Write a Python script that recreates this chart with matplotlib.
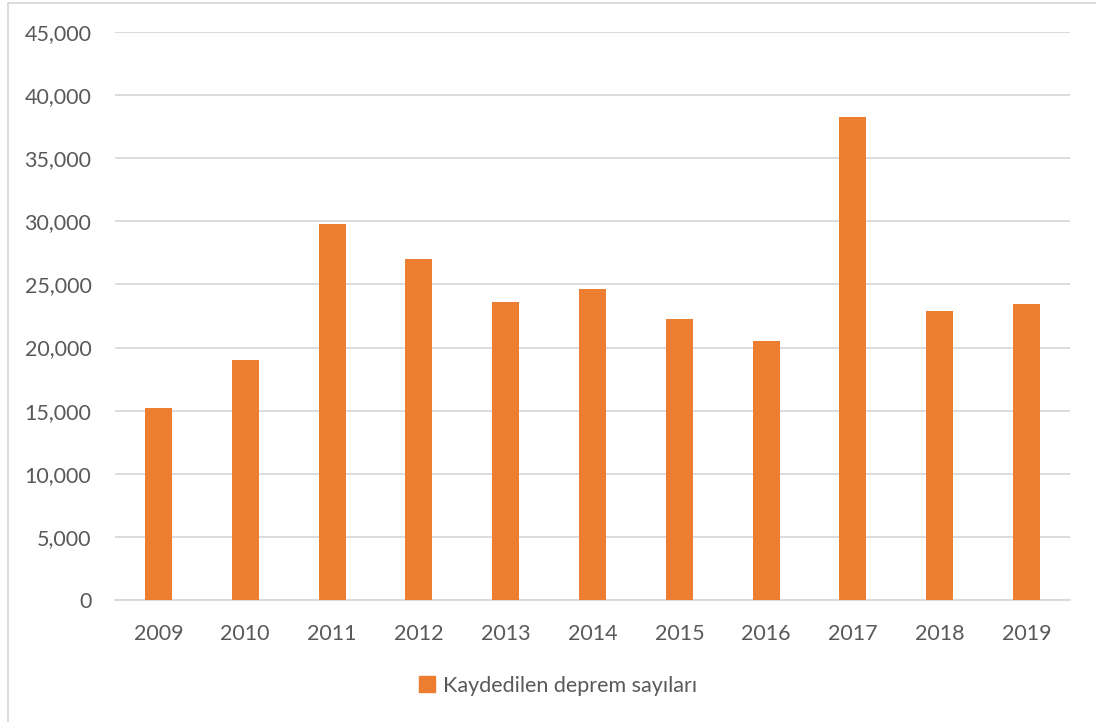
import numpy as np
import matplotlib.pyplot as plt
from matplotlib.lines import Line2D
from matplotlib.ticker import FuncFormatter

plt.rcParams['font.family'] = ['Lato', 'DejaVu Sans']

years = ['2009', '2010', '2011', '2012', '2013', '2014',
         '2015', '2016', '2017', '2018', '2019']
counts = [15200, 19000, 29800, 27000, 23600, 24600,
          22300, 20550, 38300, 22900, 23450]
series_name = 'Kaydedilen deprem sayıları'

bar_color = '#ED7D31'
text_color = '#595959'
grid_color = '#D9D9D9'

W, H = 1096, 722
fig = plt.figure(figsize=(W / 100, H / 100), dpi=100)
fig.patch.set_facecolor('white')

# axes box in pixel coords: x 115..1070, y 32..600
ax = fig.add_axes([115 / W, 1 - 600 / H, (1070 - 115) / W, (600 - 32) / H])
x = np.arange(len(years))
ax.bar(x, counts, width=0.31, color=bar_color, zorder=3)

ax.set_xlim(-0.5, len(years) - 0.5)
ax.set_ylim(0, 45000)
ax.set_yticks(np.arange(0, 45001, 5000))
ax.yaxis.set_major_formatter(FuncFormatter(lambda v, p: f'{int(v):,}'))
ax.set_xticks(x)
ax.set_xticklabels(years)

ax.grid(axis='y', color=grid_color, linewidth=1.3, zorder=0)
for s in ['top', 'right', 'left']:
    ax.spines[s].set_visible(False)
ax.spines['bottom'].set_color(grid_color)
ax.spines['bottom'].set_linewidth(1.3)
ax.tick_params(axis='both', length=0, labelsize=15.5, labelcolor=text_color)
ax.tick_params(axis='y', pad=17)
ax.tick_params(axis='x', pad=17)

handle = Line2D([], [], marker='s', linestyle='none', markersize=11,
                markerfacecolor=bar_color, markeredgecolor=bar_color)
fig.legend([handle], [series_name], loc='center', bbox_to_anchor=(557 / W, 1 - 686 / H),
           frameon=False, fontsize=15.5, labelcolor=text_color,
           handletextpad=0.3, handlelength=0.9)

# chart-area border (left and top visible in the crop)
fig.add_artist(Line2D([8 / W, 8 / W], [0, 1 - 3 / H], transform=fig.transFigure,
                      color=grid_color, linewidth=1.3))
fig.add_artist(Line2D([8 / W, 1], [1 - 3 / H, 1 - 3 / H], transform=fig.transFigure,
                      color=grid_color, linewidth=1.3))

fig.savefig('out.png', dpi=100)
